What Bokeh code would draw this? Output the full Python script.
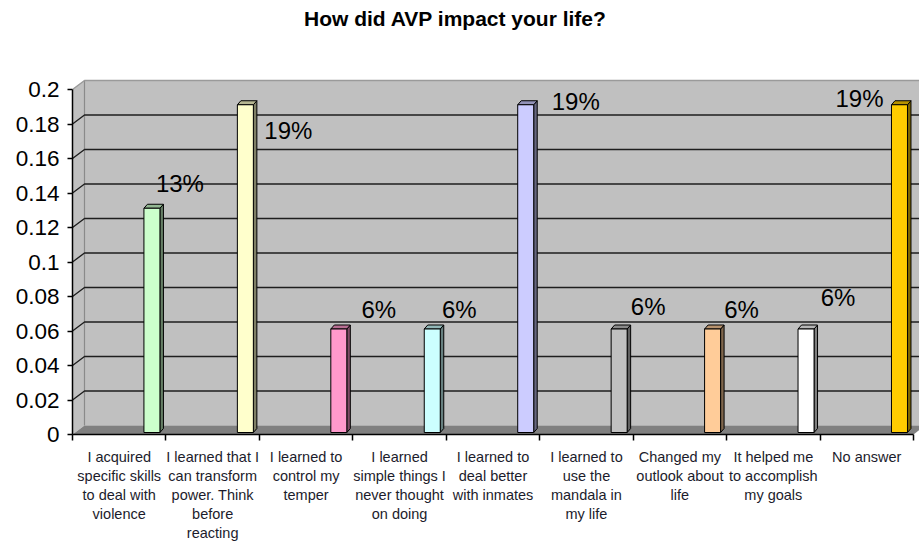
from bokeh.plotting import figure
from bokeh.models import Range1d, FixedTicker, ColumnDataSource
from bokeh.core.properties import value
from bokeh.embed import file_html
from bokeh.resources import INLINE

# ---------------- data ----------------
title_text = "How did AVP impact your life?"
categories = [
    "I acquired\nspecific skills\nto deal with\nviolence",
    "I learned that I\ncan transform\npower. Think\nbefore\nreacting",
    "I learned to\ncontrol my\ntemper",
    "I learned\nsimple things I\nnever thought\non doing",
    "I learned to\ndeal better\nwith inmates",
    "I learned to\nuse the\nmandala in\nmy life",
    "Changed my\noutlook about\nlife",
    "It helped me\nto accomplish\nmy goals",
    "No answer",
]
shares = [0.13, 0.19, 0.06, 0.06, 0.19, 0.06, 0.06, 0.06, 0.19]
y_ticks = [0.0, 0.02, 0.04, 0.06, 0.08, 0.1, 0.12, 0.14, 0.16, 0.18, 0.2]
y_tick_labels = ["0", "0.02", "0.04", "0.06", "0.08", "0.1", "0.12", "0.14", "0.16", "0.18", "0.2"]

# ---------------- style ----------------
bar_colors = ["#CCFFCC", "#FFFFCC", "#FF99CC", "#CCFFFF", "#CCCCFF",
              "#C0C0C0", "#FFCC99", "#FFFFFF", "#FFCC00"]
# data-label nudges in pixels (right, up) relative to bar top
label_dx_px = [28, 43, 40, 27, 50, 29, 29, 32, -40]
label_dy_px = [27, -24, 22, 22, 5, 25, 22, 34, 8]

FONT = "Liberation Sans"
BL, BB = 72, 107
frame_w, frame_h = 847, 434
n = len(categories)
px_per_x = 93.444
px_per_y = 1725.0
XU = 1.0 / px_per_x
YU = 1.0 / px_per_y
x_end = frame_w / px_per_x
y_end = frame_h / px_per_y
wall_dx, wall_dy = 12 * XU, 9 * YU
wall_top = 0.2 + wall_dy
bar_w = 16 * XU
bar_ddx, bar_ddy = 3.5 * XU, 4 * YU
bar_lift = 2 * YU
bar_shift = 0.85


def shade(hexcol, f):
    h = hexcol.lstrip("#")
    r, g, b = (int(h[i:i + 2], 16) for i in (0, 2, 4))
    return "#%02x%02x%02x" % (int(r * f), int(g * f), int(b * f))


p = figure(frame_width=frame_w, frame_height=frame_h, output_backend="svg",
           toolbar_location=None,
           x_range=Range1d(0, x_end), y_range=Range1d(0, y_end),
           min_border_left=BL, min_border_right=0, min_border_top=0,
           min_border_bottom=BB)
p.outline_line_color = None
p.background_fill_color = "white"
p.border_fill_color = "white"
p.xgrid.visible = False
p.ygrid.visible = False

# walls and floor
p.patch([wall_dx, x_end + 1, x_end + 1, wall_dx],
        [wall_dy, wall_dy, wall_top, wall_top],
        fill_color="#C0C0C0", line_color=None)
p.patch([0, wall_dx, wall_dx, 0], [0, wall_dy, wall_top, 0.2],
        fill_color="#C0C0C0", line_color=None)
p.line([wall_dx, wall_dx], [wall_dy, wall_top], line_color="#8a8a8a", line_width=1.2)
p.line([0, wall_dx, x_end + 1], [0.2, wall_top, wall_top],
       line_color="#9a9a9a", line_width=1.5)
p.patch([0, n, n + wall_dx, wall_dx], [0, 0, wall_dy, wall_dy],
        fill_color="#808080", line_color=None)

# gridlines
for t in y_ticks[1:-1]:
    p.line([0, wall_dx, x_end + 1], [t, t + wall_dy, t + wall_dy],
           line_color="#1e1e1e", line_width=1.4)

# bars
xs_front, ys_front, xs_side, ys_side, xs_top, ys_top = [], [], [], [], [], []
side_cols, top_cols = [], []
for i, (v, c) in enumerate(zip(shares, bar_colors)):
    cx = i + bar_shift
    l, r = cx - bar_w / 2, cx + bar_w / 2
    b0, t0 = bar_lift, v + bar_lift
    xs_side.append([r, r + bar_ddx, r + bar_ddx, r])
    ys_side.append([b0, b0 + bar_ddy, t0 + bar_ddy, t0])
    xs_top.append([l, r, r + bar_ddx, l + bar_ddx])
    ys_top.append([t0, t0, t0 + bar_ddy, t0 + bar_ddy])
    xs_front.append([l, r, r, l])
    ys_front.append([b0, b0, t0, t0])
    side_cols.append(shade(c, 0.5))
    top_cols.append(shade(c, 0.72))

p.patches(xs_side, ys_side, fill_color=side_cols, line_color="black", line_width=1)
p.patches(xs_top, ys_top, fill_color=top_cols, line_color="black", line_width=1)
p.patches(xs_front, ys_front, fill_color=bar_colors, line_color="black", line_width=1)

# data labels
lab_src = ColumnDataSource(dict(
    x=[i + bar_shift + dx * XU for i, dx in enumerate(label_dx_px)],
    y=[v + dy * YU for v, dy in zip(shares, label_dy_px)],
    t=["%d%%" % round(v * 100) for v in shares],
))
p.text(x="x", y="y", text="t", source=lab_src, text_font=value(FONT),
       text_font_size="24px", text_align="center", text_baseline="middle",
       text_color="black")

# title
p.text(x=[(455 - 72) * XU], y=[0.2 + (89 - 18) * YU], text=[title_text],
       text_font=value(FONT), text_font_size="21px", text_font_style="bold",
       text_align="center", text_baseline="middle", text_color="black")

# y axis
ya = p.yaxis[0]
ya.ticker = FixedTicker(ticks=y_ticks, minor_ticks=[])
ya.major_label_overrides = {t: s for t, s in zip(y_ticks, y_tick_labels)}
ya.bounds = (0, 0.2)
ya.major_tick_in = 0
ya.major_tick_out = 5
ya.minor_tick_line_color = None
ya.axis_line_color = "black"
ya.axis_line_width = 1.5
ya.major_tick_line_width = 1.5
ya.major_label_standoff = 8
ya.major_label_text_font = FONT
ya.major_label_text_font_size = "22.5px"
ya.major_label_text_color = "black"

# x axis
xa = p.xaxis[0]
centers = [i + 0.5 for i in range(n)]
xa.ticker = FixedTicker(ticks=centers, minor_ticks=list(range(n + 1)))
xa.major_label_overrides = {c: s for c, s in zip(centers, categories)}
xa.bounds = (0, n)
xa.major_tick_line_color = None
xa.major_tick_in = 0
xa.major_tick_out = 0
xa.minor_tick_in = 0
xa.minor_tick_out = 6
xa.minor_tick_line_color = "black"
xa.minor_tick_line_width = 1.5
xa.axis_line_color = "black"
xa.axis_line_width = 1.5
xa.major_label_standoff = 8
xa.major_label_text_font = FONT
xa.major_label_text_font_size = "14.5px"
xa.major_label_text_line_height = 1.19
xa.major_label_text_color = "#1c1c2c"

open("out.html", "w").write(file_html(p, INLINE))
